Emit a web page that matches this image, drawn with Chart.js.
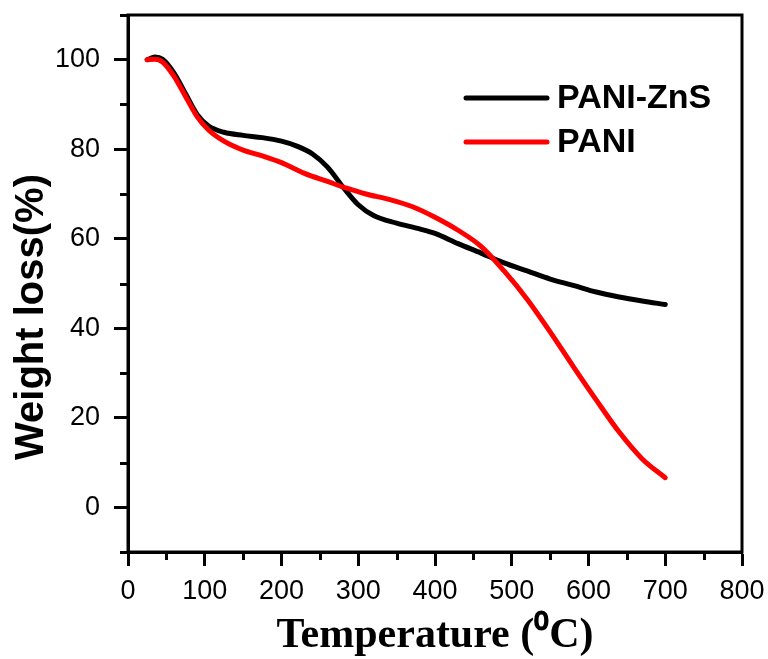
<!DOCTYPE html>
<html>
<head>
<meta charset="utf-8">
<script src="https://cdn.jsdelivr.net/npm/chart.js@4.4.1/dist/chart.umd.min.js"></script>
<style>
  html, body { margin: 0; padding: 0; background: #fff; }
  #wrap { width: 768px; height: 659px; }
</style>
</head>
<body>
<div id="wrap"><canvas id="tgaChart" width="768" height="659"></canvas></div>
<script>
// --- data ---
const seriesNames = ['PANI-ZnS', 'PANI'];
const seriesColors = ['#000000', '#ff0000'];

const tempZnS = [25, 35, 45, 60, 75, 90, 105, 125, 150, 175, 200, 220, 240, 260, 280, 300, 320, 350, 380, 400, 430, 460, 490, 520, 550, 580, 610, 640, 670, 700];
const weightZnS = [100, 100.6, 100.1, 97, 92.4, 87.8, 85.2, 83.8, 83.1, 82.6, 81.8, 80.7, 79, 76, 71.6, 67.6, 65.2, 63.5, 62.2, 61.2, 58.9, 56.8, 54.6, 52.8, 51.0, 49.6, 48.1, 47.0, 46.1, 45.3];

const tempPani = [25, 35, 45, 60, 75, 90, 105, 125, 150, 175, 200, 230, 260, 285, 310, 340, 370, 400, 430, 460, 490, 520, 550, 580, 610, 640, 670, 700];
const weightPani = [100, 100.1, 99.5, 96.3, 91.8, 87.3, 84.3, 81.8, 79.8, 78.5, 77, 74.6, 72.8, 71.3, 70.0, 68.8, 67.2, 64.8, 61.9, 58.3, 52.8, 46.5, 39.2, 31.5, 24.0, 16.8, 10.8, 6.6];

const xTicks = [0, 100, 200, 300, 400, 500, 600, 700, 800];
const xMinorTicks = [50, 150, 250, 350, 450, 550, 650, 750];
const yTicks = [0, 20, 40, 60, 80, 100];
const yMinorTicks = [-10, 10, 30, 50, 70, 90, 110];

const xTitle = 'Temperature (\u2070C)';
const yTitle = 'Weight loss(%)';

function toPoints(xs, ys) {
    return xs.map((x, i) => ({ x: x, y: ys[i] }));
}

// keep the plot frame where the original has it
function noOverhang(scale) {
    scale.paddingTop = 0;
    scale.paddingBottom = 0;
    scale.paddingLeft = 0;
    scale.paddingRight = 0;
}

// frame, minor ticks, y title and legend
const decorPlugin = {
    id: 'decor',
    afterDraw: function(chart) {
        const ctx = chart.ctx;
        const area = chart.chartArea;
        const xs = chart.scales.x;
        const ys = chart.scales.y;
        ctx.save();
        ctx.strokeStyle = '#000';
        ctx.lineWidth = 3;
        ctx.strokeRect(area.left, area.top, area.right - area.left, area.bottom - area.top);

        // minor ticks (outward)
        ctx.beginPath();
        xMinorTicks.forEach(function(v) {
            const px = Math.round(xs.getPixelForValue(v)) + 0.5;
            ctx.moveTo(px, area.bottom);
            ctx.lineTo(px, area.bottom + 8);
        });
        yMinorTicks.forEach(function(v) {
            const py = Math.round(ys.getPixelForValue(v)) + 0.5;
            ctx.moveTo(area.left, py);
            ctx.lineTo(area.left - 8, py);
        });
        ctx.stroke();

        // y axis title
        ctx.fillStyle = '#000';
        ctx.font = 'bold 40px "Liberation Sans", Arial, sans-serif';
        ctx.textAlign = 'center';
        ctx.textBaseline = 'middle';
        ctx.translate(32, 317);
        ctx.rotate(-Math.PI / 2);
        ctx.fillText(yTitle, 0, 0);
        ctx.restore();

        // legend
        ctx.save();
        ctx.font = 'bold 34px "Liberation Sans", Arial, sans-serif';
        ctx.textAlign = 'left';
        ctx.textBaseline = 'middle';
        ctx.lineCap = 'round';
        chart.data.datasets.forEach(function(ds, i) {
            const ly = 98 + i * 44;
            ctx.strokeStyle = ds.borderColor;
            ctx.lineWidth = 5;
            ctx.beginPath();
            ctx.moveTo(466, ly);
            ctx.lineTo(547, ly);
            ctx.stroke();
            ctx.fillStyle = '#000';
            ctx.fillText(ds.label, 557, ly + 1);
        });
        ctx.restore();
    }
};

const tickFont = { family: '"Liberation Sans", Arial, sans-serif', size: 27 };

new Chart(document.getElementById('tgaChart').getContext('2d'), {
    type: 'line',
    data: {
        datasets: [{
            label: seriesNames[0],
            data: toPoints(tempZnS, weightZnS),
            borderColor: seriesColors[0],
            borderWidth: 5,
            borderCapStyle: 'round',
            pointRadius: 0,
            cubicInterpolationMode: 'monotone',
            order: 1
        }, {
            label: seriesNames[1],
            data: toPoints(tempPani, weightPani),
            borderColor: seriesColors[1],
            borderWidth: 5,
            borderCapStyle: 'round',
            pointRadius: 0,
            cubicInterpolationMode: 'monotone',
            order: 0
        }]
    },
    options: {
        responsive: false,
        animation: false,
        devicePixelRatio: 1,
        layout: {
            padding: { top: 15, right: 26, left: 0, bottom: 0 }
        },
        plugins: {
            legend: { display: false },
            tooltip: { enabled: false }
        },
        scales: {
            x: {
                type: 'linear',
                min: 0,
                max: 800,
                afterBuildTicks: function(scale) {
                    scale.ticks = xTicks.map(v => ({ value: v }));
                },
                afterFit: function(scale) {
                    scale.height = 107;
                    noOverhang(scale);
                },
                grid: {
                    drawOnChartArea: false,
                    drawTicks: true,
                    tickLength: 14,
                    tickWidth: 3,
                    tickColor: '#000'
                },
                border: { display: true, color: '#000', width: 3 },
                ticks: {
                    color: '#000',
                    font: tickFont,
                    padding: 9,
                    maxRotation: 0,
                    autoSkip: false
                },
                title: {
                    display: true,
                    text: xTitle,
                    color: '#000',
                    font: { family: '"Liberation Serif", "Times New Roman", serif', weight: 'bold', size: 42, lineHeight: 1 },
                    padding: { top: 0, bottom: 2 }
                }
            },
            y: {
                type: 'linear',
                min: -10,
                max: 110,
                afterBuildTicks: function(scale) {
                    scale.ticks = yTicks.map(v => ({ value: v }));
                },
                afterFit: function(scale) {
                    scale.width = 128;
                    noOverhang(scale);
                },
                grid: {
                    drawOnChartArea: false,
                    drawTicks: true,
                    tickLength: 14,
                    tickWidth: 3,
                    tickColor: '#000'
                },
                border: { display: true, color: '#000', width: 3 },
                ticks: {
                    color: '#000',
                    font: tickFont,
                    padding: 14,
                    autoSkip: false
                }
            }
        }
    },
    plugins: [decorPlugin]
});
</script>
</body>
</html>
